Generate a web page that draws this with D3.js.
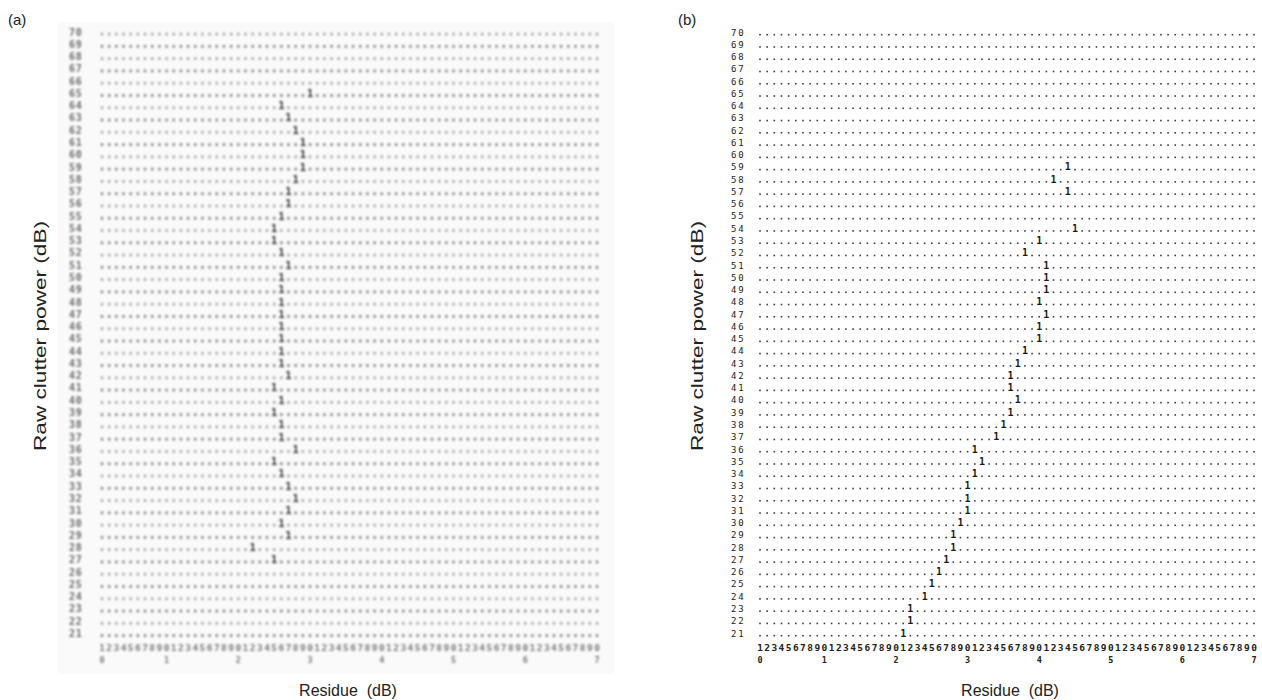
<!DOCTYPE html>
<html>
<head>
<meta charset="utf-8">
<script src="https://cdn.jsdelivr.net/npm/d3@7/dist/d3.min.js"></script>
<style>
  body { margin: 0; background: #fff; }
  text { font-family: "DejaVu Sans Mono", monospace; }
  .title { font-family: "Liberation Sans", Arial, sans-serif; fill: #222; }
</style>
</head>
<body>
<svg id="chart" width="1262" height="700"></svg>
<script>
// rows of the printer plot (raw clutter power, dB)
var powerLevels = [70, 69, 68, 67, 66, 65, 64, 63, 62, 61, 60, 59, 58, 57, 56, 55, 54, 53, 52, 51,
                   50, 49, 48, 47, 46, 45, 44, 43, 42, 41, 40, 39, 38, 37, 36, 35, 34, 33, 32, 31,
                   30, 29, 28, 27, 26, 25, 24, 23, 22, 21];
var xTicks = [0, 1, 2, 3, 4, 5, 6, 7];

// panel (a) : residue read at each power level
var powerA   = [65, 64, 63, 62, 61, 60, 59, 58, 57, 56, 55, 54, 53, 52, 51, 50, 49, 48, 47, 46,
                45, 44, 43, 42, 41, 40, 39, 38, 37, 36, 35, 34, 33, 32, 31, 30, 29, 28, 27];
var residueA = [3.0, 2.6, 2.7, 2.8, 2.9, 2.9, 2.9, 2.8, 2.7, 2.7, 2.6, 2.5, 2.5, 2.6, 2.7, 2.6, 2.6, 2.6, 2.6, 2.6,
                2.6, 2.6, 2.6, 2.7, 2.5, 2.6, 2.5, 2.6, 2.6, 2.8, 2.5, 2.6, 2.7, 2.8, 2.7, 2.6, 2.7, 2.2, 2.5];

// panel (b)
var powerB   = [59, 58, 57, 54, 53, 52, 51, 50, 49, 48, 47, 46, 45, 44, 43, 42, 41, 40, 39, 38,
                37, 36, 35, 34, 33, 32, 31, 30, 29, 28, 27, 26, 25, 24, 23, 22, 21];
var residueB = [4.4, 4.2, 4.4, 4.5, 4.0, 3.8, 4.1, 4.1, 4.1, 4.0, 4.1, 4.0, 4.0, 3.8, 3.7, 3.6, 3.6, 3.7, 3.6, 3.5,
                3.4, 3.1, 3.2, 3.1, 3.0, 3.0, 3.0, 2.9, 2.8, 2.8, 2.7, 2.6, 2.5, 2.4, 2.2, 2.2, 2.1];

var svg = d3.select("#chart");

svg.append("defs").append("filter")
    .attr("id", "scan")
    .attr("x", "-5%").attr("y", "-5%").attr("width", "110%").attr("height", "110%")
  .append("feGaussianBlur")
    .attr("stdDeviation", 0.85);

var columns = d3.range(1, 71);   // print columns, 0.1 dB each

function drawPanel(o) {
  var g = svg.append("g");
  if (o.blur) g.attr("filter", "url(#scan)");

  var x = d3.scaleLinear().domain([0.1, 7.0]).range([o.left, o.right]);
  var y = d3.scalePoint().domain(powerLevels).range([o.top, o.bottom]);

  var markCol = new Map(o.power.map(function(p, i) { return [p, Math.round(o.residue[i] * 10)]; }));

  // dotted rows
  var rows = g.selectAll("g.row")
    .data(powerLevels)
    .join("g")
      .attr("class", "row")
      .attr("transform", function(d) { return "translate(0," + y(d) + ")"; });

  rows.selectAll("rect")
    .data(function(p) {
      return columns.filter(function(c) { return markCol.get(p) !== c; })
                    .map(function(c) { return {p: p, c: c}; });
    })
    .join("rect")
      .attr("x", function(d) { return x(d.c / 10) - o.dotW / 2; })
      .attr("y", -o.dotH)
      .attr("width", o.dotW)
      .attr("height", o.dotH)
      .attr("fill", function(d) { return o.dotColor(d.p); });

  // markers
  g.selectAll("text.mark")
    .data(o.power.map(function(p, i) { return {p: p, r: o.residue[i]}; }))
    .join("text")
      .attr("class", "mark")
      .attr("x", function(d) { return x(d.r); })
      .attr("y", function(d) { return y(d.p); })
      .attr("text-anchor", "middle")
      .style("font-size", o.markSize + "px")
      .style("font-weight", "bold")
      .style("fill", o.markColor)
      .text("1");

  // row labels
  g.selectAll("text.lab")
    .data(powerLevels)
    .join("text")
      .attr("class", "lab")
      .attr("x", o.labelX)
      .attr("y", function(d) { return y(d); })
      .style("font-size", o.labSize + "px")
      .style("font-weight", o.labWeight)
      .style("letter-spacing", o.labSpacing + "px")
      .style("fill", o.labColor)
      .text(function(d) { return d; });

  // column digits 1234567890...
  g.selectAll("text.dig")
    .data(columns)
    .join("text")
      .attr("class", "dig")
      .attr("x", function(c) { return x(c / 10); })
      .attr("y", o.axisY)
      .attr("text-anchor", "middle")
      .style("font-size", o.digSize + "px")
      .style("font-weight", o.digWeight)
      .style("fill", o.digColor)
      .text(function(c) { return c % 10; });

  // scale numbers
  g.selectAll("text.tick")
    .data(xTicks)
    .join("text")
      .attr("class", "tick")
      .attr("x", function(k) { return x(Math.max(k, 0.1)); })
      .attr("y", o.tickY)
      .attr("text-anchor", "middle")
      .style("font-size", o.tickSize + "px")
      .style("font-weight", "bold")
      .style("fill", o.digColor)
      .text(function(k) { return k; });
}

// faint scan background of (a)
svg.append("rect")
  .attr("x", 58).attr("y", 22).attr("width", 556).attr("height", 652)
  .attr("fill", "#fafafa");

drawPanel({
  blur: true,
  left: 102, right: 597, top: 35.5, bottom: 637,
  power: powerA, residue: residueA,
  dotW: 2.4, dotH: 2.8,
  dotColor: function(p) { return p % 2 === 0 ? "#a6a6a6" : "#858585"; },
  markSize: 10.5, markColor: "#2a2a2a",
  labelX: 69, labSize: 10, labWeight: "bold", labSpacing: 0.8, labColor: "#6a6a6a",
  axisY: 650.5, digSize: 9.5, digWeight: "bold", digColor: "#7a7a7a",
  tickY: 663, tickSize: 8.5
});

drawPanel({
  blur: false,
  left: 760, right: 1254, top: 35.5, bottom: 636.5,
  power: powerB, residue: residueB,
  dotW: 1.6, dotH: 1.6,
  dotColor: function() { return "#3c3c3c"; },
  markSize: 10, markColor: "#1a1a1a",
  labelX: 731, labSize: 9, labWeight: "normal", labSpacing: 1.8, labColor: "#222",
  axisY: 650.5, digSize: 9.5, digWeight: "bold", digColor: "#222",
  tickY: 663, tickSize: 8.5
});

// panel letters and axis titles
svg.append("text").attr("class", "title")
  .attr("x", 8).attr("y", 25).style("font-size", "15px").text("(a)");
svg.append("text").attr("class", "title")
  .attr("x", 678).attr("y", 25).style("font-size", "15px").text("(b)");

[40, 697].forEach(function(cx) {
  svg.append("text").attr("class", "title")
    .attr("transform", "translate(" + (cx + 6) + ",336) rotate(-90)")
    .attr("text-anchor", "middle")
    .attr("textLength", 230)
    .attr("lengthAdjust", "spacingAndGlyphs")
    .style("font-size", "16px")
    .text("Raw clutter power (dB)");
});

[348, 1010].forEach(function(cx) {
  svg.append("text").attr("class", "title")
    .attr("x", cx).attr("y", 696)
    .attr("text-anchor", "middle")
    .style("font-size", "16px")
    .style("white-space", "pre")
    .text("Residue  (dB)");
});
</script>
</body>
</html>
